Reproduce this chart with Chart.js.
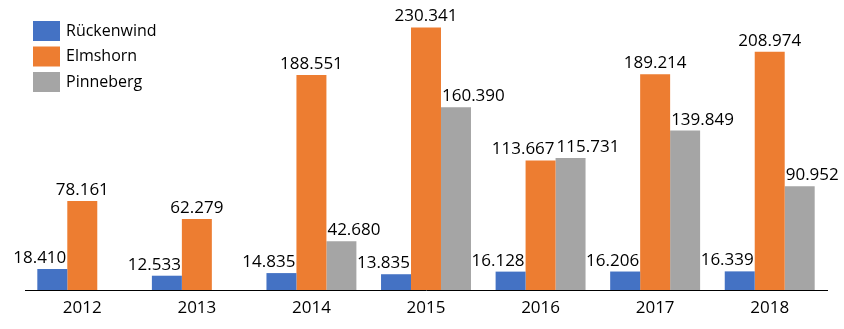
<!DOCTYPE html>
<html>
<head>
<meta charset="utf-8">
<script src="https://cdn.jsdelivr.net/npm/chart.js@4.4.0/dist/chart.umd.min.js"></script>
<style>
html,body{margin:0;padding:0;background:#fff;}
#wrap{width:844px;height:329px;position:relative;}
</style>
</head>
<body>
<div id="wrap"><canvas id="c" width="844" height="329"></canvas></div>
<script>
const years = ["2012","2013","2014","2015","2016","2017","2018"];
const seriesNames = ["Rückenwind","Elmshorn","Pinneberg"];
const rueckenwind = [18410,12533,14835,13835,16128,16206,16339];
const elmshorn = [78161,62279,188551,230341,113667,189214,208974];
const pinneberg = [null,null,42680,160390,115731,139849,90952];
const colors = ["#4472C4","#ED7D31","#A5A5A5"];
const labelAlign = ["right","center","left"];

const FONT = "'Open Sans', sans-serif";

function fmt(v){
  return String(v).replace(/\B(?=(\d{3})+(?!\d))/g, ".");
}

const labelPlugin = {
  id:'valueLabels',
  afterDatasetsDraw(chart){
    const ctx = chart.ctx;
    ctx.save();
    ctx.font = "17px " + FONT;
    ctx.fillStyle = "#000";
    ctx.textBaseline = "alphabetic";
    const n = chart.data.labels.length;
    for(let i=0;i<n;i++){
      const items = [];
      chart.data.datasets.forEach((ds,di)=>{
        const v = ds.data[i];
        if(v===null||v===undefined) return;
        const el = chart.getDatasetMeta(di).data[i];
        const left = el.x - el.width/2, right = el.x + el.width/2;
        const text = fmt(v);
        const w = ctx.measureText(text).width;
        let x0;
        if(labelAlign[di]==="right") x0 = right - 1 - w;
        else if(labelAlign[di]==="left") x0 = left + 1;
        else x0 = el.x - w/2;
        items.push({di, text, w, x0, y: el.y - 6, left, right});
      });
      // avoid overlap of centered label with following left-aligned label
      for(let k=0;k<items.length-1;k++){
        const a = items[k], b = items[k+1];
        if(labelAlign[a.di]==="center" && Math.abs(a.y-b.y) < 14 && a.x0 + a.w > b.x0){
          a.x0 = a.right - 1 - a.w;
        }
      }
      items.forEach(it=>{
        ctx.textAlign = "left";
        ctx.fillText(it.text, it.x0, it.y);
      });
    }
    ctx.restore();
  }
};

const legendPlugin = {
  id:'insideLegend',
  afterDraw(chart){
    const ctx = chart.ctx;
    ctx.save();
    ctx.font = "16px " + FONT;
    ctx.textBaseline = "middle";
    ctx.textAlign = "left";
    chart.data.datasets.forEach((ds,di)=>{
      const y = 21 + di*25.5;
      ctx.fillStyle = ds.backgroundColor;
      ctx.fillRect(33, y, 27, 20);
      ctx.fillStyle = "#000";
      ctx.fillText(ds.label, 66, y + 10);
    });
    ctx.restore();
  }
};

new Chart(document.getElementById('c'), {
  type:'bar',
  data:{
    labels: years,
    datasets:[
      {label:seriesNames[0], data:rueckenwind, backgroundColor:colors[0]},
      {label:seriesNames[1], data:elmshorn, backgroundColor:colors[1]},
      {label:seriesNames[2], data:pinneberg, backgroundColor:colors[2]}
    ]
  },
  options:{
    responsive:false,
    animation:false,
    devicePixelRatio:1,
    layout:{padding:{left:25,right:17,top:5,bottom:0}},
    datasets:{bar:{categoryPercentage:0.785,barPercentage:1,borderWidth:0}},
    plugins:{legend:{display:false},tooltip:{enabled:false},title:{display:false}},
    scales:{
      x:{
        grid:{display:false,drawTicks:false},
        border:{display:true,color:"#000",width:1},
        ticks:{font:{family:FONT,size:17},color:"#000",padding:8,maxRotation:0},
        afterFit(s){ s.height = 39; }
      },
      y:{
        display:false,
        min:0,max:250000,
        beginAtZero:true
      }
    }
  },
  plugins:[labelPlugin, legendPlugin]
});
</script>
</body>
</html>
